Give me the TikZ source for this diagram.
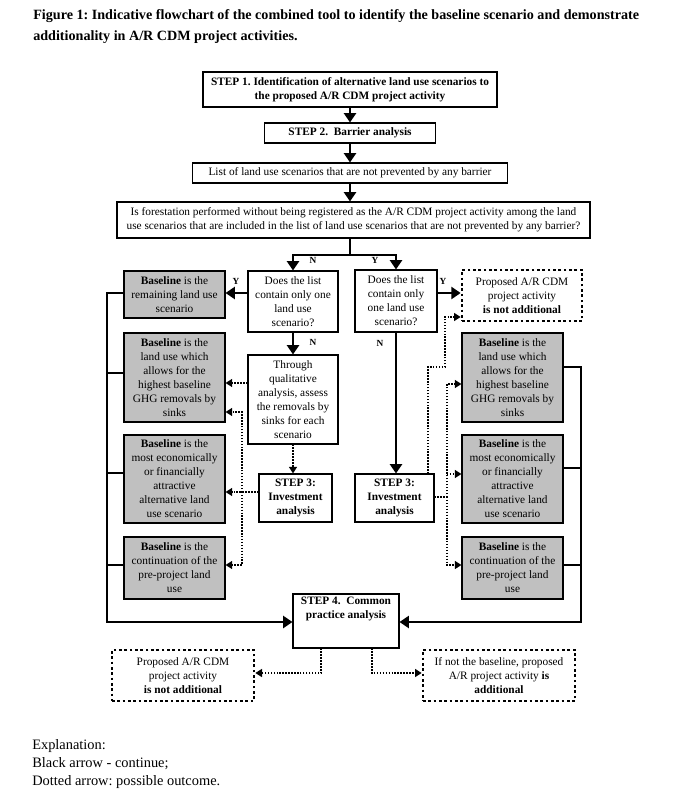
\documentclass[tikz,border=0pt]{standalone}
\usepackage{fontspec}
\setmainfont{Liberation Serif}
\usetikzlibrary{arrows.meta,calc}
\definecolor{boxgray}{RGB}{192,192,192}
\frenchspacing
\begin{document}
\begin{tikzpicture}[x=0.75pt,y=-0.75pt,
  box/.style={draw, line width=0.8pt, align=center, inner sep=1pt, font=\fontsize{8.5}{10.5}\selectfont},
  gbox/.style={box, fill=boxgray, minimum width=75.75pt},
  dbox/.style={draw, line width=2pt, dash pattern=on 2pt off 2pt, align=center, inner sep=1pt, font=\fontsize{8.5}{10.5}\selectfont},
  tarrow/.style={line width=2pt, line join=miter, -{Triangle[length=7pt,width=9pt]}},
  tline/.style={line width=2pt, line join=miter},
  darrow/.style={line width=1.1pt, dash pattern=on 1.1pt off 1.1pt, -{Triangle[length=5pt,width=6pt]}},
  dline/.style={line width=1.1pt, dash pattern=on 1.1pt off 1.1pt},
  yn/.style={font=\bfseries\fontsize{7}{8}\selectfont, inner sep=0pt},
  plain/.style={inner sep=0pt, align=left}
]
\useasboundingbox[fill=white] (0,0) rectangle (672,809);

% title
\node[plain, anchor=north west, font=\bfseries\fontsize{10.6}{15.75}\selectfont] (title) at (33,9)
  {Figure 1: Indicative flowchart of the combined tool to identify the baseline scenario and demonstrate\\
   additionality in A/R CDM project activities.};

% top chain
\node[box, minimum width=220.5pt, minimum height=26.25pt, font=\bfseries\fontsize{8.5}{10.5}\selectfont] (s1) at (350,89.5)
  {STEP 1. Identification of alternative land use scenarios to\\ the proposed A/R CDM project activity};
\node[box, minimum width=128.25pt, minimum height=15pt, font=\bfseries\fontsize{8.5}{10.5}\selectfont] (s2) at (350,133)
  {STEP 2.\ \ Barrier analysis};
\node[box, minimum width=236.25pt, minimum height=15pt] (list) at (350,173)
  {List of land use scenarios that are not prevented by any barrier};
\node[box, minimum width=354.75pt, minimum height=27pt] (q) at (353.5,220)
  {Is forestation performed without being registered as the A/R CDM project activity among the land\\
   use scenarios that are included in the list of land use scenarios that are not prevented by any barrier?};

\draw[tarrow] (s1.south -| 350,0) -- (s2.north -| 350,0);
\draw[tarrow] (s2.south -| 350,0) -- (list.north -| 350,0);
\draw[tarrow] (list.south -| 350,0) -- (q.north -| 350,0);

% decision boxes
\node[box, minimum width=67.5pt, minimum height=45.75pt] (qL) at (293,301.5)
  {Does the list\\ contain only one\\ land use\\ scenario?};
\node[box, minimum width=61.5pt, minimum height=46.5pt] (qR) at (396,301)
  {Does the list\\ contain only\\ one land use\\ scenario?};

\coordinate (jm) at (350,255);
\draw[tline] (q.south -| jm) -- (jm);
\draw[tarrow] (jm) -| (qL.north);
\draw[tarrow] (jm) -| (qR.north);
\node[yn] (n1) at (313,260) {N};
\node[yn] (y1) at (375,260) {Y};

% left column
\node[gbox, minimum height=35.25pt] (bL1) at (174.5,294.5)
  {\textbf{Baseline} is the\\ remaining land use\\ scenario};
\node[gbox, minimum height=66.75pt] (bL2) at (174.5,377.5)
  {\textbf{Baseline} is the\\ land use which\\ allows for the\\ highest baseline\\ GHG removals by\\ sinks};
\node[gbox, minimum height=66pt] (bL3) at (174.5,479)
  {\textbf{Baseline} is the\\ most economically\\ or financially\\ attractive\\ alternative land\\ use scenario};
\node[gbox, minimum height=46.5pt] (bL4) at (174.5,568)
  {\textbf{Baseline} is the\\ continuation of the\\ pre-project land\\ use};

% right column
\node[dbox, minimum width=90pt, minimum height=38.25pt] (naT) at (522,295.5)
  {Proposed A/R CDM\\ project activity\\ \textbf{is not additional}};
\node[gbox, minimum height=66.75pt] (bR2) at (512.5,377.5)
  {\textbf{Baseline} is the\\ land use which\\ allows for the\\ highest baseline\\ GHG removals by\\ sinks};
\node[gbox, minimum height=66pt] (bR3) at (512.5,479)
  {\textbf{Baseline} is the\\ most economically\\ or financially\\ attractive\\ alternative land\\ use scenario};
\node[gbox, minimum height=46.5pt] (bR4) at (512.5,568)
  {\textbf{Baseline} is the\\ continuation of the\\ pre-project land\\ use};

% middle
\node[box, minimum width=67.5pt, minimum height=66.75pt] (thr) at (293,399.5)
  {Through\\ qualitative\\ analysis, assess\\ the removals by\\ sinks for each\\ scenario};
\node[box, minimum width=54.75pt, minimum height=36pt, font=\bfseries\fontsize{8.5}{10.5}\selectfont] (s3L) at (295.5,498)
  {STEP 3:\\ Investment\\ analysis};
\node[box, minimum width=59.25pt, minimum height=36pt, font=\bfseries\fontsize{8.5}{10.5}\selectfont] (s3R) at (394.5,498)
  {STEP 3:\\ Investment\\ analysis};
\node[box, minimum width=79.5pt, minimum height=40.5pt] (s4) at (346,621) {};
\node[plain, align=center, anchor=north, font=\bfseries\fontsize{8.5}{10.5}\selectfont] (s4t) at (346,597)
  {STEP 4.\ \ Common\\ practice analysis};

% bottom outcomes
\node[dbox, minimum width=106.5pt, minimum height=38.25pt] (naB) at (183,675.5)
  {Proposed A/R CDM\\ project activity\\ \textbf{is not additional}};
\node[dbox, minimum width=114pt, minimum height=38.25pt] (adB) at (499,675.5)
  {If not the baseline, proposed\\ A/R project activity \textbf{is}\\ \textbf{additional}};

% solid decisions
\draw[tarrow] (qL.west |- 0,293) -- (bL1.east |- 0,293);
\node[yn] (y2) at (236,281) {Y};
\draw[tarrow] (qL.south) -- (thr.north);
\node[yn] (n2) at (313,342) {N};
\draw[tarrow] (qR.east |- 0,293) -- (naT.west |- 0,293);
\node[yn] (y3) at (443,281) {Y};
\draw[tarrow] (qR.south) -- (qR.south |- s3R.north);
\node[yn] (n3) at (380,343) {N};

% left bus
\draw[tarrow] (bL1.west |- 0,293) -- (107,293) -- (107,622) -- (s4.west |- 0,622);
\draw[tline] (bL2.west |- 0,373) -- (107,373);
\draw[tline] (bL3.west |- 0,473) -- (107,473);
\draw[tline] (bL4.west |- 0,565) -- (107,565);

% right bus
\draw[tarrow] (bR2.east |- 0,367) -- (581,367) -- (581,622) -- (s4.east |- 0,622);
\draw[tline] (bR3.east |- 0,468) -- (581,468);
\draw[tline] (bR4.east |- 0,565) -- (581,565);

% left dotted
\draw[darrow] (thr.west |- 0,383) -- (bL2.east |- 0,383);
\draw[darrow] (thr.south) -- (thr.south |- s3L.north);
\coordinate (jL) at (242,492);
\draw[darrow] (s3L.west |- jL) -- (bL3.east |- jL);
\draw[darrow] (jL) -- (242,412) -- (bL2.east |- 0,412);
\draw[darrow] (jL) -- (242,565) -- (bL4.east |- 0,565);

% right dotted
\draw[darrow] (s3R.north -| 428,0) -- (428,367) -- (445,367) -- (445,317) -- (naT.west |- 0,317);
\coordinate (jR) at (447,497);
\draw[dline] (s3R.east |- jR) -- (jR);
\draw[darrow] (jR) -- (447,384) -- (bR2.west |- 0,384);
\draw[darrow] (447,474) -- (bR3.west |- 0,474);
\draw[darrow] (jR) -- (447,565) -- (bR4.west |- 0,565);

% bottom dotted
\draw[darrow] (s4.south -| 321,0) -- (321,673) -- (naB.east |- 0,673);
\draw[darrow] (s4.south -| 372,0) -- (372,673) -- (adB.west |- 0,673);

% explanation
\node[plain, anchor=north west, font=\fontsize{10.8}{13.5}\selectfont] (expl) at (32,739)
  {Explanation:\\ Black arrow - continue;\\ Dotted arrow: possible outcome.};
\end{tikzpicture}
\end{document}
